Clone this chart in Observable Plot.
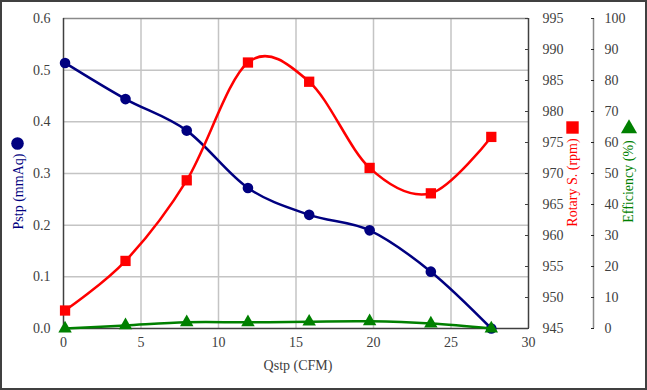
<!DOCTYPE html>
<html>
<head>
<meta charset="utf-8">
<script src="https://cdn.jsdelivr.net/npm/d3@7"></script>
<script src="https://cdn.jsdelivr.net/npm/@observablehq/plot@0.6"></script>
<style>
  html, body { margin: 0; padding: 0; background: #fff; }
  #wrap { position: relative; width: 647px; height: 390px; overflow: hidden; }
  #wrap svg { position: absolute; left: 0; top: 0; font-family: "Liberation Serif", serif !important; }
  #wrap svg text { font-family: "Liberation Serif", serif !important; }
  #border { position: absolute; left: 0; top: 0; width: 647px; height: 390px; box-sizing: border-box; border: 2px solid #404040; pointer-events: none; }
</style>
</head>
<body>
<div id="wrap"><div id="border"></div></div>
<script>
// ---- data ----
const qstp       = [0.1, 4.0, 7.95, 11.9, 15.85, 19.75, 23.7, 27.6];     // CFM
const pstp       = [0.514, 0.444, 0.383, 0.272, 0.220, 0.190, 0.110, 0.0]; // mmAq
const rotary     = [947.9, 955.9, 968.9, 987.9, 984.8, 970.9, 966.8, 975.9]; // rpm
const efficiency = [0, 1.0, 2.0, 2.0, 2.2, 2.3, 1.6, 0];                  // %

const xTicks       = [0, 5, 10, 15, 20, 25, 30];
const pstpTicks    = [0, 0.1, 0.2, 0.3, 0.4, 0.5, 0.6];
const rotaryTicks  = [945, 950, 955, 960, 965, 970, 975, 980, 985, 990, 995];
const effTicks     = [0, 10, 20, 30, 40, 50, 60, 70, 80, 90, 100];

const xTitle   = "Qstp (CFM)";
const pTitle   = "Pstp (mmAq)";
const rTitle   = "Rotary S. (rpm)";
const eTitle   = "Efficiency (%)";

// secondary axes mapped onto the primary y scale
const rDomain = [945, 995];
const eDomain = [0, 100];
const pMax = 0.6;
const ry = r => (r - rDomain[0]) / (rDomain[1] - rDomain[0]) * pMax;
const ey = e => (e - eDomain[0]) / (eDomain[1] - eDomain[0]) * pMax;

const pData = qstp.map((q, i) => ({q, v: pstp[i]}));
const rData = qstp.map((q, i) => ({q, v: ry(rotary[i])}));
const eData = qstp.map((q, i) => ({q, v: ey(efficiency[i])}));

const NAVY = "#000080", RED = "#ff0000", GREEN = "#008000", TXT = "#404040";
const FONT = "Liberation Serif";

const chart = Plot.plot({
  width: 647,
  height: 390,
  marginLeft: 63,
  marginRight: 119,
  marginTop: 18,
  marginBottom: 62,
  style: {fontFamily: FONT, fontSize: "14px", background: "transparent"},
  x: {domain: [0, 30], axis: null},
  y: {domain: [0, pMax], axis: null},
  marks: [
    Plot.gridX({ticks: xTicks.slice(1, -1), stroke: "#c4c4c4", strokeOpacity: 1, strokeWidth: 1.5}),
    Plot.gridY({ticks: pstpTicks.slice(1, -1), stroke: "#c4c4c4", strokeOpacity: 1, strokeWidth: 1.5}),
    // frame
    Plot.ruleY([pMax], {stroke: "#8a8a8a", strokeWidth: 1.5}),
    Plot.ruleX([0], {stroke: TXT, strokeWidth: 1.5}),
    Plot.ruleX([30], {stroke: TXT, strokeWidth: 1.5}),
    Plot.ruleY([0], {stroke: TXT, strokeWidth: 1.5}),
    // efficiency axis line
    Plot.ruleX([30], {dx: 65, stroke: "#8a8a8a", strokeWidth: 1.5}),
    // axes
    Plot.axisX({ticks: xTicks, tickSize: 0, tickPadding: 9, label: null, fill: TXT, fontSize: 14, fontFamily: FONT}),
    Plot.axisY({ticks: pstpTicks, anchor: "left", tickSize: 0, tickPadding: 13, tickFormat: d => d.toFixed(1), label: null, fill: TXT, fontSize: 14, fontFamily: FONT}),
    Plot.axisY({ticks: rotaryTicks.map(ry), anchor: "right", tickSize: -4, tickPadding: 18,
      tickFormat: d => String(Math.round(rDomain[0] + d / pMax * (rDomain[1] - rDomain[0]))),
      label: null, fill: TXT, stroke: TXT, fontSize: 14, fontFamily: FONT}),
    Plot.axisY({ticks: effTicks.map(ey), anchor: "right", dx: 65, tickSize: -3, tickPadding: 14,
      tickFormat: d => String(Math.round(eDomain[0] + d / pMax * (eDomain[1] - eDomain[0]))),
      label: null, fill: TXT, stroke: "#222", fontSize: 14, fontFamily: FONT}),
    // titles
    Plot.text([xTitle], {frameAnchor: "bottom", dx: 2, dy: 41, fill: TXT, fontSize: 14, fontFamily: FONT}),
    Plot.text([pTitle], {frameAnchor: "left", textAnchor: "middle", dx: -45, dy: 18, rotate: -90, fill: NAVY, fontSize: 14, fontFamily: FONT}),
    Plot.dot([0], {frameAnchor: "left", dx: -46, dy: -30, r: 6.3, fill: NAVY}),
    Plot.text([rTitle], {frameAnchor: "right", textAnchor: "middle", dx: 44, dy: 9, rotate: -90, fill: RED, fontSize: 14, fontFamily: FONT}),
    Plot.dot([0], {frameAnchor: "right", dx: 44, dy: -46, r: 7, symbol: "square", fill: RED}),
    Plot.text([eTitle], {frameAnchor: "right", textAnchor: "middle", dx: 100, dy: 8, rotate: -90, fill: GREEN, fontSize: 14, fontFamily: FONT}),
    Plot.dot([0], {frameAnchor: "right", dx: 100.5, dy: -45, r: 6, symbol: "triangle", fill: GREEN}),
    // data
    Plot.line(pData, {x: "q", y: "v", curve: "cardinal", stroke: NAVY, strokeWidth: 2.5}),
    Plot.dot(pData, {x: "q", y: "v", r: 5.3, fill: NAVY}),
    Plot.line(rData, {x: "q", y: "v", curve: "cardinal", stroke: RED, strokeWidth: 2.5}),
    Plot.dot(rData, {x: "q", y: "v", r: 5.8, symbol: "square", fill: RED}),
    Plot.line(eData, {x: "q", y: "v", curve: "cardinal", stroke: GREEN, strokeWidth: 2.5}),
    Plot.dot(eData, {x: "q", y: "v", r: 5, symbol: "triangle", fill: GREEN})
  ]
});
document.getElementById("wrap").prepend(chart);
</script>
</body>
</html>
